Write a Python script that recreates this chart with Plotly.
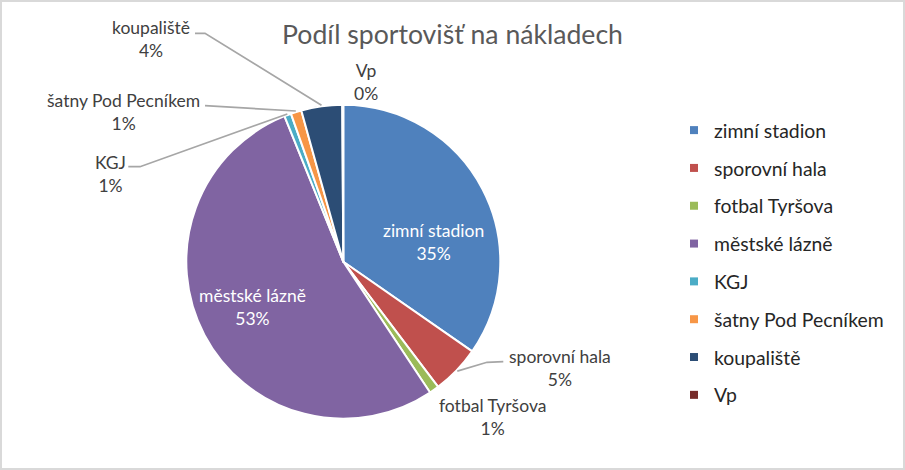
import math
import plotly.graph_objects as go

# ---------------- data ----------------
labels = ["zimní stadion", "sporovní hala", "fotbal Tyršova", "městské lázně",
          "KGJ", "šatny Pod Pecníkem", "koupaliště", "Vp"]
values = [34.6, 5.0, 1.0, 53.1, 0.7, 1.1, 4.2, 0.1]
colors = ["#4F81BD", "#C0504D", "#9BBB59", "#8064A2",
          "#4BACC6", "#F79646", "#2C4D75", "#772C2A"]
title_text = "Podíl sportovišť na nákladech"

# ---------------- layout constants (pixels) ----------------
W, H = 905, 470
CX, CY, R = 343.3, 261.7, 157.0
FONT = "Lato"

def px(x):
    return x / W

def py(y):
    return 1 - y / H

# label placement: (center x, center y, inside?)
label_pos = {
    "zimní stadion": (433.7, 241.7, True),
    "sporovní hala": (559.5, 367.8, False),
    "fotbal Tyršova": (492.0, 417.0, False),
    "městské lázně": (252.0, 306.7, True),
    "KGJ": (110.5, 173.7, False),
    "šatny Pod Pecníkem": (124.0, 112.2, False),
    "koupaliště": (150.8, 38.7, False),
    "Vp": (366.0, 82.5, False),
}
# leader line start points (label side), ending at the slice edge
leader_pts = {
    "koupaliště": [(195.0, 33.3), (205.0, 33.3)],
    "šatny Pod Pecníkem": [(205.0, 105.7)],
    "KGJ": [(128.3, 166.7), (140.0, 166.7)],
    "sporovní hala": [(503.3, 361.7), (487.0, 362.3)],
}

total = sum(values)
fig = go.Figure()

fig.add_trace(go.Pie(
    labels=labels, values=values, sort=False, direction="clockwise", rotation=0,
    marker=dict(colors=colors, line=dict(color="white", width=2)),
    textinfo="none", hoverinfo="label+percent", showlegend=False,
    domain=dict(x=[px(CX - R), px(CX + R)], y=[py(CY + R), py(CY - R)]),
))

# legend entries
for lab, col in zip(labels, colors):
    fig.add_trace(go.Scatter(
        x=[None], y=[None], mode="markers", name=lab, legendgroup=lab,
        marker=dict(symbol="square", size=8, color=col), showlegend=True,
    ))

annotations = []
shapes = []
cum = 0.0
for lab, v in zip(labels, values):
    mid = (cum + v / 2) / total * 2 * math.pi
    cum += v
    pct = round(v / total * 100)
    x, y, inside = label_pos[lab]
    annotations.append(dict(
        x=px(x), y=py(y), xref="paper", yref="paper", xanchor="center", yanchor="middle",
        text=f"{lab}<br>{pct}%", showarrow=False, align="center",
        font=dict(family=FONT, size=17.5, color="white" if inside else "#404040"),
    ))
    if lab in leader_pts:
        ex = CX + (R + 1) * math.sin(mid)
        ey = CY - (R + 1) * math.cos(mid)
        pts = leader_pts[lab] + [(ex, ey)]
        path = "M " + " L ".join(f"{px(a)},{py(b)}" for a, b in pts)
        shapes.append(dict(type="path", xref="paper", yref="paper", path=path,
                           line=dict(color="#A6A6A6", width=1.7)))

# outer chart border
shapes.append(dict(type="rect", xref="paper", yref="paper", x0=0, y0=0, x1=1, y1=1,
                   line=dict(color="#D9D9D9", width=4)))

fig.update_layout(
    width=W, height=H,
    margin=dict(l=0, r=0, t=0, b=0),
    paper_bgcolor="white", plot_bgcolor="white",
    title=dict(text=title_text, x=0.5, xanchor="center", y=py(35), yanchor="middle",
               xref="paper", yref="container",
               font=dict(family=FONT, size=26.6, color="#595959")),
    xaxis=dict(visible=False), yaxis=dict(visible=False),
    legend=dict(x=px(674), y=py(111), xanchor="left", yanchor="top",
                traceorder="grouped", tracegroupgap=9.6,
                font=dict(family=FONT, size=19.4, color="#262626"),
                bgcolor="rgba(0,0,0,0)"),
    annotations=annotations, shapes=shapes,
)

fig.write_html("out.html")
